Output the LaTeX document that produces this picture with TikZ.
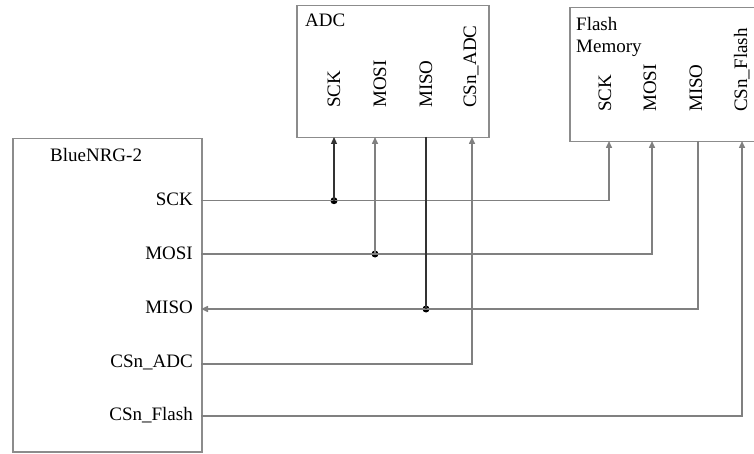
\documentclass[tikz,border=0pt]{standalone}
\usepackage{fontspec}
\setmainfont{Liberation Serif}
\usetikzlibrary{arrows.meta,positioning}
\definecolor{wiregray}{rgb}{0.50,0.50,0.50}
\definecolor{boxgray}{rgb}{0.55,0.55,0.55}
\tikzset{
  chip/.style={
    draw=boxgray,
    line width=1.5pt,
    rectangle,
    anchor=north west,
    inner sep=0pt
  },
  pin/.style={
    inner sep=0pt,
    font=\fontsize{19}{22}\selectfont
  },
  vpin/.style={
    pin,
    rotate=90,
    anchor=base west
  },
  hpin/.style={
    pin,
    anchor=base east
  },
  wire/.style={
    draw=wiregray,
    line width=1.5pt
  },
  wiredark/.style={
    draw=black!80,
    line width=1.2pt
  },
  sig/.style={
    -{Triangle[length=7pt,width=6pt]}
  },
  joint/.style={
    circle,
    fill=black,
    inner sep=0pt,
    minimum size=7pt
  }
}

\begin{document}
\begin{tikzpicture}[x=1pt,y=-1pt]
\clip (0,0) rectangle (754,454);
\node[chip,minimum width=189pt,minimum height=313pt] (ble) at (12,138) {};
\node[chip,minimum width=192pt,minimum height=132pt] (adc) at (296,5) {};
\node[chip,minimum width=190pt,minimum height=134pt] (flash) at (569,7) {};
\node[pin,anchor=base west] (ble-name) at (50,162) {BlueNRG-2};
\node[pin,anchor=base west] (adc-name) at (305,27) {ADC};
\node[pin,anchor=base west] (flash-name) at (576,31) {Flash};
\node[pin,anchor=base west] (flash-name2) at (576,53) {Memory};
\node[hpin] (ble-sck-l) at (193,206) {SCK};
\node[hpin] (ble-mosi-l) at (193,259.3) {MOSI};
\node[hpin] (ble-miso-l) at (193,313.3) {MISO};
\node[hpin] (ble-csadc-l) at (193,367) {CSn\_ADC};
\node[hpin] (ble-csflash-l) at (193,420.3) {CSn\_Flash};
\node[vpin] (adc-sck-l) at (340,108) {SCK};
\node[vpin] (adc-mosi-l) at (386,108) {MOSI};
\node[vpin] (adc-miso-l) at (432,108) {MISO};
\node[vpin] (adc-csadc-l) at (476,108) {CSn\_ADC};
\node[vpin] (flash-sck-l) at (611,112) {SCK};
\node[vpin] (flash-mosi-l) at (656,112) {MOSI};
\node[vpin] (flash-miso-l) at (702,112) {MISO};
\node[vpin] (flash-csflash-l) at (747,112) {CSn\_Flash};
\coordinate (ble-sck) at (201,200.7);
\coordinate (ble-mosi) at (201,254);
\coordinate (ble-miso) at (201,309);
\coordinate (ble-csadc) at (201,364);
\coordinate (ble-csflash) at (201,416);
\coordinate (adc-sck) at (334,137);
\coordinate (adc-mosi) at (375,137);
\coordinate (adc-miso) at (426,137);
\coordinate (adc-csadc) at (472,137);
\coordinate (flash-sck) at (609,141);
\coordinate (flash-mosi) at (652,141);
\coordinate (flash-miso) at (698,141);
\coordinate (flash-csflash) at (742,141);
\node[joint] (j-sck) at (adc-sck |- ble-sck) {};
\node[joint] (j-mosi) at (adc-mosi |- ble-mosi) {};
\node[joint] (j-miso) at (adc-miso |- ble-miso) {};
\draw[wire,sig] (ble-sck) -| (flash-sck);
\draw[wire,sig] (ble-mosi) -| (flash-mosi);
\draw[wire,sig] (flash-miso) |- (ble-miso);
\draw[wire,sig] (ble-csadc) -| (adc-csadc);
\draw[wire,sig] (ble-csflash) -| (flash-csflash);
\draw[wiredark,sig] (j-sck.center) -- (adc-sck);
\draw[wire,sig] (j-mosi.center) -- (adc-mosi);
\draw[wiredark] (adc-miso) -- (j-miso.center);
\end{tikzpicture}
\end{document}
